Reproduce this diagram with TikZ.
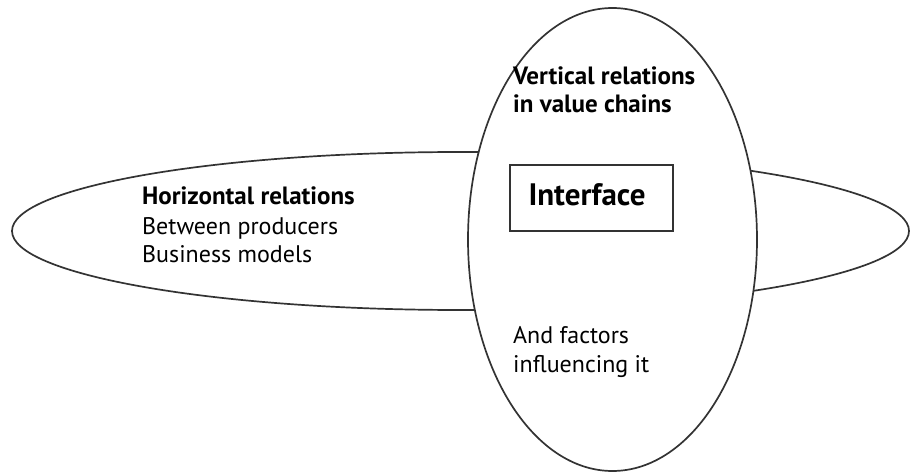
\documentclass[tikz,border=0pt]{standalone}
\usepackage{fontspec}
\setmainfont{PT Sans}
\usetikzlibrary{shapes.geometric}
\begin{document}
\begin{tikzpicture}[x=1pt,y=-1pt,
  outline/.style={draw=black!80, line width=1.7pt},
  oval/.style={outline, ellipse, inner sep=0pt},
  label/.style={anchor=base west, inner sep=0pt, align=left, font=\fontsize{24}{28}\selectfont},
  heading/.style={label, font=\fontsize{25}{28}\selectfont\bfseries},
  framebox/.style={outline, inner sep=0pt, minimum width=163, minimum height=66}
]
\useasboundingbox (0,0) rectangle (910,473);
% horizontal relations, partly hidden behind the vertical oval
\node[oval, minimum width=897, minimum height=158] (horiz) at (460.5,231) {};
% vertical relations, filled so it covers the horizontal oval
\node[oval, fill=white, minimum width=289, minimum height=463] (vert) at (612.5,239.5) {};
% texts
\node[heading] (htitle) at (142,205) {Horizontal relations};
\node[label] (hline1) at (142,234) {Between producers};
\node[label] (hline2) at (142,262) {Business models};
\node[heading] (vtitle) at (513,85) {Vertical relations};
\node[heading] (vline2) at (513,113) {in value chains};
\node[framebox] (iface) at (591.5,198) {};
\node[font=\fontsize{31}{36}\selectfont\bfseries, anchor=base, inner sep=0pt] (ifacetext) at (587,206) {Interface};
\node[label] (aline1) at (513,343) {And factors};
\node[label] (aline2) at (513,372) {influencing it};
\end{tikzpicture}
\end{document}
